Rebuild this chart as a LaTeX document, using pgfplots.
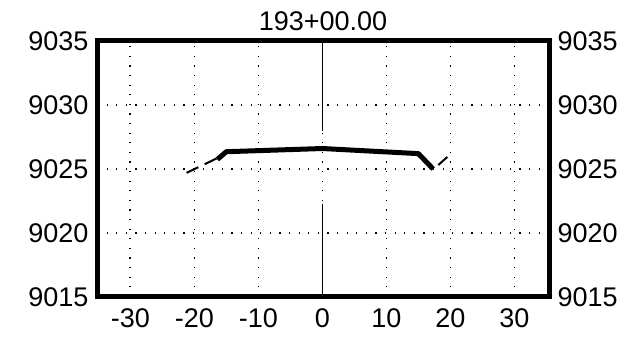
\documentclass[border=0pt]{standalone}
\usepackage{fontspec}
\setmainfont{Liberation Sans}
\usepackage{pgfplots}
\pgfplotsset{compat=1.18}
\begin{document}
\begin{tikzpicture}[x=1pt,y=1pt]
\pgfplotsset{
  common/.style={
    at={(97pt,50pt)}, anchor=south west,
    scale only axis, width=452pt, height=256pt,
    xmin=-35.2, xmax=35.4, ymin=9015, ymax=9035,
    xtick={-30,-20,...,30}, ytick={9015,9020,...,9035},
    major tick length=0pt,
    /pgf/number format/assume math mode=true,
    /pgf/number format/set thousands separator={},
    tick label style={font=\fontsize{27}{32}\selectfont},
  }
}
\begin{axis}[common,
  axis line style={line width=5pt},
  grid=major,
  grid style={black, line width=1.6pt, dash pattern=on 1.2pt off 8.4pt, line cap=butt},
  xticklabel style={yshift=-8pt},
  yticklabel style={xshift=-5pt},
  title={193+00.00},
  title style={font=\fontsize{27}{32}\selectfont, at={(0.5,1)}, anchor=south, yshift=1pt},
  clip=false,
]
% centre line
\addplot[black, line width=1pt] coordinates {(0,9035) (0,9028.0)};
\addplot[black, line width=1pt] coordinates {(0,9022.3) (0,9015)};
% existing ground
\addplot[black, line width=2pt, dash pattern=on 13pt off 7pt] coordinates {(-21.2,9024.7) (-16.4,9025.85)};
\addplot[black, line width=2pt, dash pattern=on 0pt off 7pt on 12pt off 20pt] coordinates {(17.3,9024.95) (20.1,9026.2)};
\addplot[black, line width=1pt] coordinates {(14.6,9026.15) (17.3,9025.0)};
% design section
\addplot[black, line width=5pt, line join=round] coordinates {(-16.4,9025.75) (-15.0,9026.35) (0,9026.6) (15,9026.2) (17.3,9025.0)};
\end{axis}
\begin{axis}[common,
  axis x line=none,
  axis y line*=right,
  y axis line style={draw=none},
  xtick=\empty,
  yticklabel pos=right,
  yticklabel style={xshift=5pt},
]
\addplot[draw=none] coordinates {(0,9025)};
\end{axis}
\path (0,0) rectangle (623,347);
\end{tikzpicture}
\end{document}
